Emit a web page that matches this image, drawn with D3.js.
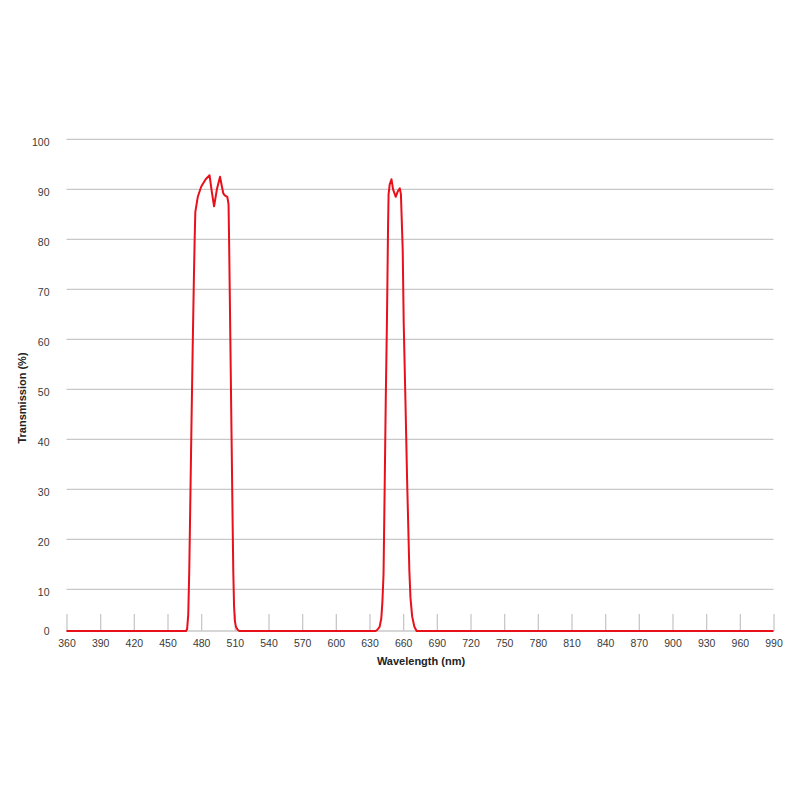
<!DOCTYPE html>
<html>
<head>
<meta charset="utf-8">
<script src="https://cdn.jsdelivr.net/npm/d3@7"></script>
<style>
  html, body { margin: 0; padding: 0; background: #fff; }
  svg { display: block; }
</style>
</head>
<body>
<svg id="chart" width="800" height="800"></svg>
<script>
// ---- Data ----
const xTicks = [360, 390, 420, 450, 480, 510, 540, 570, 600, 630, 660, 690, 720, 750, 780, 810, 840, 870, 900, 930, 960, 990];
const yTicks = [0, 10, 20, 30, 40, 50, 60, 70, 80, 90, 100];

const wavelength = [
  360, 466.5, 467.5, 468.5, 469.4, 470.5, 471.5, 472.5, 473.5, 474.2, 474.8,
  477, 480, 484, 487.5, 489.5, 491.5, 494, 496.8, 498.5, 499.7, 501, 503.3,
  504.4, 505, 506, 507, 508, 508.6, 509.3, 510, 511, 512.5, 514,
  635.5, 637, 639, 640.5, 641.5, 642.5, 643.5, 644.5, 645.5, 646, 646.5, 647, 648,
  649.6, 651, 653.4, 655, 657, 658, 659, 659.6, 660.5, 662, 663.5, 665.5, 666.5,
  668, 670, 672, 990
];
const transmission = [
  0, 0, 0.5, 4, 13.8, 30, 45, 59, 72, 80, 85.5,
  88.5, 90.5, 92, 92.8, 89.5, 86.6, 90, 92.5, 90.5, 89.2, 88.8, 88.5,
  87, 78, 60, 42, 24, 13.8, 6, 2.5, 1, 0.3, 0,
  0, 0.3, 1, 3, 7, 13, 30, 48, 63, 72, 82, 89, 91,
  92, 90, 88.5, 89.5, 90.2, 89, 82, 77.8, 63, 48, 32, 13.8, 8,
  3.5, 1, 0, 0
];

const xTitle = "Wavelength (nm)";
const yTitle = "Transmission (%)";

// ---- Layout ----
const svg = d3.select("#chart");
const left = 66.5, right = 773.5;
const x = d3.scaleLinear().domain([360, 990]).range([left, right]);
// baseline sits a bit closer to the 10 line than regular spacing
const y = d3.scaleLinear().domain([0, 10, 100]).range([631, 589.3, 139.3]);

const font = "'Liberation Sans', Arial, Helvetica, sans-serif";

// gridlines (10..100)
svg.append("g")
  .selectAll("line")
  .data(yTicks.filter(d => d > 0))
  .join("line")
  .attr("x1", left).attr("x2", right)
  .attr("y1", d => y(d)).attr("y2", d => y(d))
  .attr("stroke", "#c8c8c8").attr("stroke-width", 1.3);

// baseline
svg.append("line")
  .attr("x1", left).attr("x2", right)
  .attr("y1", y(0)).attr("y2", y(0))
  .attr("stroke", "#c8c8c8").attr("stroke-width", 1.3);

// x axis via d3.axisBottom (tick marks pointing up, labels below)
const xAxis = d3.axisBottom(x)
  .tickValues(xTicks)
  .tickSizeInner(-17)
  .tickSizeOuter(0)
  .tickPadding(8.5)
  .tickFormat(d3.format("d"));
const gx = svg.append("g")
  .attr("transform", `translate(0,${y(0)})`)
  .call(xAxis);
gx.select(".domain").remove();
gx.selectAll(".tick line").attr("stroke", "#c8c8c8").attr("stroke-width", 1.3);
gx.selectAll(".tick text")
  .attr("fill", "#3a3a3a")
  .style("font-family", font)
  .style("font-size", "10.5px");

// y axis labels
const yAxis = d3.axisLeft(y)
  .tickValues(yTicks)
  .tickSize(0)
  .tickPadding(17)
  .tickFormat(d3.format("d"));
const gy = svg.append("g")
  .attr("transform", `translate(${left},0)`)
  .call(yAxis);
gy.select(".domain").remove();
gy.selectAll(".tick text")
  .attr("fill", "#3a3a3a")
  .attr("dy", d => d === 0 ? "0.32em" : "0.55em")
  .style("font-family", font)
  .style("font-size", "10.5px");

// axis titles
svg.append("text")
  .attr("x", 421).attr("y", 665)
  .attr("text-anchor", "middle")
  .attr("fill", "#222")
  .style("font-family", font)
  .style("font-size", "11px")
  .style("font-weight", "bold")
  .text(xTitle);

svg.append("text")
  .attr("transform", "translate(26,398) rotate(-90)")
  .attr("text-anchor", "middle")
  .attr("fill", "#222")
  .style("font-family", font)
  .style("font-size", "11px")
  .style("font-weight", "bold")
  .text(yTitle);

// curve
const pts = wavelength.map((w, i) => [w, transmission[i]]);
const line = d3.line()
  .x(d => x(d[0]))
  .y(d => y(d[1]))
  .curve(d3.curveLinear);
svg.append("path")
  .datum(pts)
  .attr("d", line)
  .attr("fill", "none")
  .attr("stroke", "#e8101a")
  .attr("stroke-width", 2)
  .attr("stroke-linejoin", "round");
</script>
</body>
</html>
